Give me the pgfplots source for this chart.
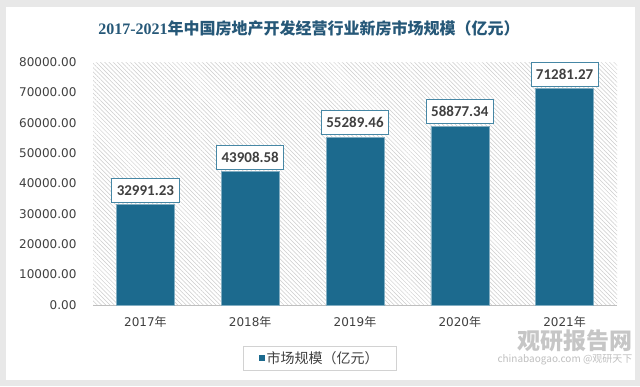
\documentclass[border=0pt]{standalone}
\usepackage{pgfplots}
\pgfplotsset{compat=1.18}
\usepackage{pgfplotstable}
\usepackage{fontspec}
\setmainfont{DejaVu Sans}
\newfontfamily\cjk{Noto Sans CJK SC}
\newfontfamily\titleserif{Liberation Serif}
\newfontfamily\lblfont{Carlito}
\usetikzlibrary{patterns.meta}
\definecolor{barcolor}{RGB}{28,106,142}
\definecolor{lblborder}{RGB}{70,135,165}
\definecolor{titlecol}{RGB}{38,88,120}
\definecolor{txtgray}{RGB}{64,64,64}
\definecolor{framegray}{RGB}{232,232,232}
\pgfplotstableread{
x y label
0 32991.23 32991.23
1 43908.58 43908.58
2 55289.46 55289.46
3 58877.34 58877.34
4 71281.27 71281.27
}\datatable
\begin{document}
\begin{tikzpicture}[x=1pt,y=1pt]
\fill[framegray] (0,0) rectangle (640,386);
\fill[white] (6,6) rectangle (635,379);
\node[font=\bfseries\fontsize{16}{18}\selectfont, text=titlecol] at (309,358)
  {{\titleserif 2017-2021}{\cjk\bfseries 年中国房地产开发经营行业新房市场规模（亿元）}};
\node[font=\cjk\bfseries\fontsize{23}{25}\selectfont, text=gray!45] at (575,45) {观研报告网};
\node[font=\cjk\fontsize{10}{12}\selectfont, text=gray!50] at (565,26) {chinabaogao.com @观研天下};
\begin{axis}[
  at={(93pt,81pt)}, anchor=south west,
  scale only axis, width=524pt, height=243pt,
  xmin=-0.5, xmax=4.5, ymin=0, ymax=80000,
  ytick={0,10000,...,80000},
  xtick=data,
  xticklabels={2017{\cjk 年},2018{\cjk 年},2019{\cjk 年},2020{\cjk 年},2021{\cjk 年}},
  major tick length=0pt,
  axis x line*=bottom, axis y line*=left,
  x axis line style={draw=gray!50, line width=0.8pt, -},
  y axis line style={draw=none},
  axis background/.style={pattern={Lines[angle=-45,distance=3pt,line width=0.5pt]}, pattern color=gray!40},
  /pgf/number format/.cd, fixed, fixed zerofill, precision=2, 1000 sep={}, assume math mode=true,
  /pgfplots/.cd,
  yticklabel style={font=\fontsize{12}{14}\selectfont, text=txtgray, xshift=-13pt},
  xticklabel style={font=\fontsize{12}{14}\selectfont, text=txtgray, yshift=-8pt},
  scaled y ticks=false,
  ybar, bar width=58pt,
  nodes near coords={\pgfplotspointmeta},
  point meta=explicit symbolic,
  every node near coord/.append style={draw=lblborder, fill=white, line width=0.8pt,
     font=\lblfont\bfseries\fontsize{15}{17}\selectfont, text=txtgray,
     inner xsep=5pt, minimum height=24pt, anchor=south, yshift=2pt},
  legend style={at={(0.433,-0.218)}, anchor=center, draw=gray!35, fill=white,
     font=\cjk\fontsize{14}{16}\selectfont, text=txtgray, inner xsep=16pt, inner ysep=3pt},
  legend image code/.code={\fill[barcolor] (1pt,-2.5pt) rectangle (6pt,2.5pt);},
]
\addplot[fill=barcolor, draw=barcolor!55!white, line width=0.6pt] table[x=x,y=y,meta=label]{\datatable};
\addlegendentry{市场规模（亿元）}
\end{axis}
\pgfresetboundingbox
\useasboundingbox (0,0) rectangle (640,386);
\end{tikzpicture}
\end{document}
